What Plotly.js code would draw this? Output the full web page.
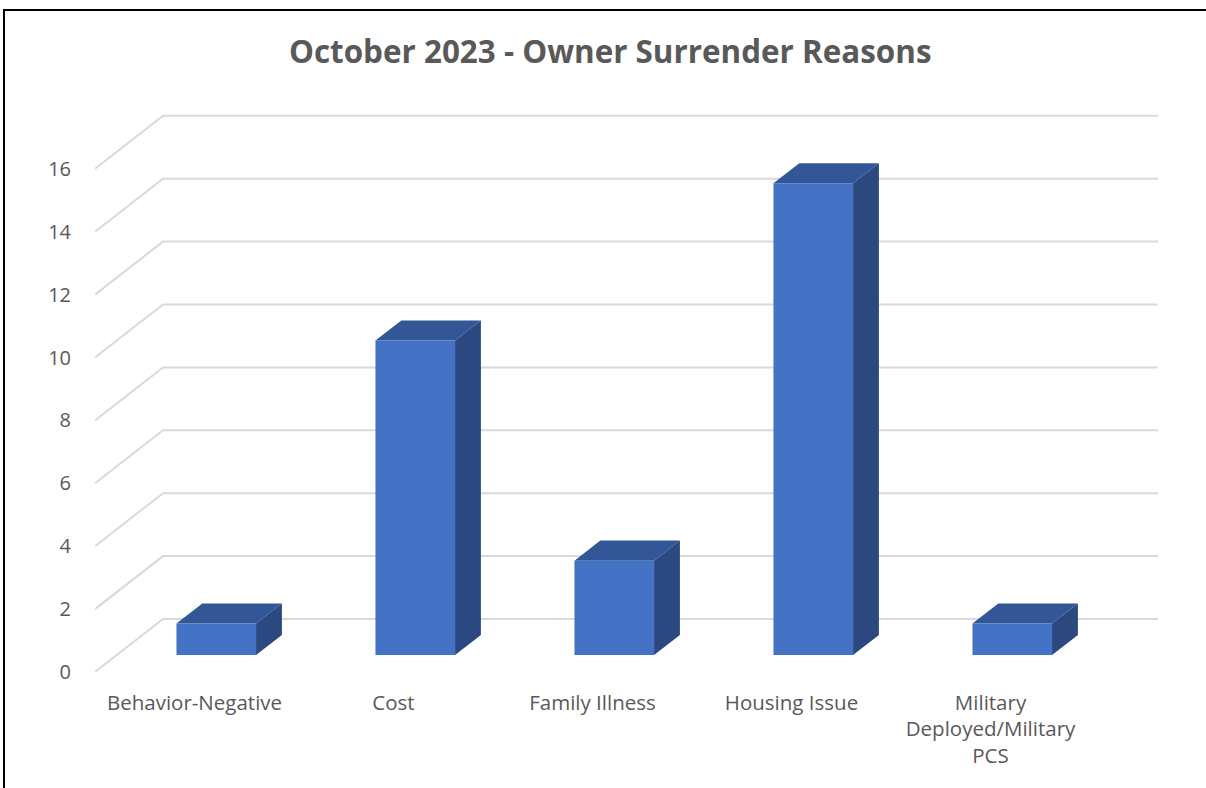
<!DOCTYPE html>
<html>
<head>
<meta charset="utf-8">
<script src="https://cdn.plot.ly/plotly-3.0.1.min.js"></script>
<style>
  html, body { margin: 0; padding: 0; background: #fff; overflow: hidden; }
  #chart { position: absolute; left: 0; top: 0; width: 1206px; height: 788px; }
  #frame { position: absolute; left: 3px; top: 9px; width: 1400px; height: 1000px;
           border: 2px solid #000; pointer-events: none; box-sizing: border-box; }
</style>
</head>
<body>
<div id="chart"></div>
<div id="frame"></div>
<script>
// ---- data ----
const categories = ["Behavior-Negative", "Cost", "Family Illness", "Housing Issue", "Military<br>Deployed/Military<br>PCS"];
const values = [1, 10, 3, 15, 1];
const yTicks = [0, 2, 4, 6, 8, 10, 12, 14, 16];
const titleText = "October 2023 - Owner Surrender Reasons";

(function () {
// ---- oblique 3D projection (in axis units) ----
const PX_X = 199;     // px per category
const PX_Y = 31.45;   // px per value unit
const DEPTH_DX = 68 / PX_X;    // wall depth in x units
const DEPTH_DY = 53 / PX_Y;    // wall depth in y units
const dx = d => DEPTH_DX * d;
const dy = d => DEPTH_DY * d;
const D1 = 0.32, D2 = 0.70, HALF = 0.2;

// gridlines (side wall + back wall)
const gx = [], gy = [];
yTicks.forEach(v => {
  gx.push(-0.5, -0.5 + dx(1), categories.length - 0.5 + dx(1), null);
  gy.push(v, v + dy(1), v + dy(1), null);
});

const frontX = [], frontY = [], topX = [], topY = [], sideX = [], sideY = [];
values.forEach((v, i) => {
  const xl1 = i - HALF + dx(D1), xr1 = i + HALF + dx(D1);
  const xl2 = i - HALF + dx(D2), xr2 = i + HALF + dx(D2);
  const b1 = dy(D1), b2 = dy(D2);
  frontX.push(xl1, xr1, xr1, xl1, xl1, null);
  frontY.push(b1, b1, v + b1, v + b1, b1, null);
  topX.push(xl1, xr1, xr2, xl2, xl1, null);
  topY.push(v + b1, v + b1, v + b2, v + b2, v + b1, null);
  sideX.push(xr1, xr2, xr2, xr1, xr1, null);
  sideY.push(b1, b2, v + b2, v + b1, b1, null);
});

const traces = [
  { type: "scatter", mode: "lines", x: gx, y: gy, line: { color: "#d9d9d9", width: 2 }, hoverinfo: "skip", showlegend: false },
  { type: "scatter", mode: "lines", x: sideX, y: sideY, fill: "toself", fillcolor: "#2B4880", line: { width: 0, color: "#2B4880" }, hoverinfo: "skip", showlegend: false },
  { type: "scatter", mode: "lines", x: topX, y: topY, fill: "toself", fillcolor: "#325696", line: { width: 0, color: "#325696" }, hoverinfo: "skip", showlegend: false },
  { type: "scatter", mode: "lines", x: frontX, y: frontY, fill: "toself", fillcolor: "#4472C4", line: { width: 0, color: "#4472C4" }, showlegend: false }
];

const font = "'Open Sans', 'Noto Sans', sans-serif";
const pL = 95, pR = 1158, pT = 100, pB = 680;
const xMin = -0.5, xMax = xMin + (pR - pL) / PX_X;
const yMin = -(pB - 672) / PX_Y, yMax = yMin + (pB - pT) / PX_Y;

const layout = {
  width: 1206, height: 788,
  paper_bgcolor: "#fff", plot_bgcolor: "rgba(0,0,0,0)",
  margin: { l: pL, r: 1206 - pR, t: pT, b: 788 - pB, pad: 0 },
  title: { text: "<b>" + titleText + "</b>", x: 0.506, xanchor: "center", y: 0.934, yanchor: "middle",
           font: { family: font, size: 31.4, color: "#595959" } },
  xaxis: {
    range: [xMin, xMax], showgrid: false, zeroline: false, showline: false,
    tickvals: categories.map((c, i) => i), ticktext: categories,
    ticks: "", ticklabelstandoff: 8,
    tickfont: { family: font, size: 20.5, color: "#595959" }, fixedrange: true
  },
  yaxis: {
    range: [yMin, yMax], showgrid: false, zeroline: false, showline: false,
    tickvals: yTicks, ticktext: yTicks.map(String),
    ticks: "", ticklabelstandoff: 23,
    tickfont: { family: font, size: 20, color: "#595959" }, fixedrange: true
  },
  showlegend: false
};

Plotly.newPlot("chart", traces, layout, { displayModeBar: false, staticPlot: true });
})();
</script>
</body>
</html>
